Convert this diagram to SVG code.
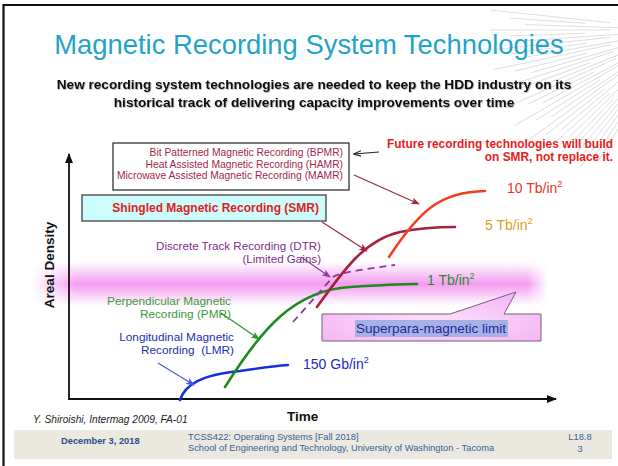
<svg xmlns="http://www.w3.org/2000/svg" width="618" height="466" viewBox="0 0 618 466">
  <style>
    text { font-family: "Liberation Sans", Arial, sans-serif; }
    .ray { stroke: #d2d2d2; stroke-width: 0.7; }
    .boxtxt { font-size: 10.3px; fill: #a3284c; text-anchor: end; }
    .dens { font-size: 14px; }
    .curve { fill: none; stroke-width: 2.6; stroke-linecap: round; }
    .foot { font-size: 9.3px; fill: #3a5f9e; }
  </style>
  <defs>
    <linearGradient id="bandV" x1="0" y1="0" x2="0" y2="1">
      <stop offset="0" stop-color="#f49cf0" stop-opacity="0"/>
      <stop offset="0.5" stop-color="#f49cf0" stop-opacity="1"/>
      <stop offset="1" stop-color="#f49cf0" stop-opacity="0"/>
    </linearGradient>
    <linearGradient id="bandH" gradientUnits="userSpaceOnUse" x1="30" y1="0" x2="548" y2="0">
      <stop offset="0" stop-color="#fff" stop-opacity="0"/>
      <stop offset="0.09" stop-color="#fff"/>
      <stop offset="0.96" stop-color="#fff"/>
      <stop offset="1" stop-color="#fff" stop-opacity="0"/>
    </linearGradient>
    <mask id="bandFade">
      <rect x="30" y="255" width="518" height="60" fill="url(#bandH)"/>
    </mask>
    <radialGradient id="calloutFill" cx="0.5" cy="0.6" r="0.6">
      <stop offset="0" stop-color="#fbe2fb"/>
      <stop offset="1" stop-color="#f4b8f4"/>
    </radialGradient>
    <filter id="softShadow" x="-5%" y="-30%" width="110%" height="160%">
      <feDropShadow dx="0.8" dy="0.8" stdDeviation="0.5" flood-color="#000" flood-opacity="0.3"/>
    </filter>
    <marker id="ahOpen" viewBox="0 0 10 8" refX="9" refY="4" markerWidth="8" markerHeight="7" markerUnits="userSpaceOnUse" orient="auto">
      <path d="M0,0.5 L9.5,4 L0,7.5" fill="none" stroke="#222" stroke-width="1.3"/>
    </marker>
    <marker id="ahRed" viewBox="0 0 10 8" refX="9" refY="4" markerWidth="9" markerHeight="7" markerUnits="userSpaceOnUse" orient="auto">
      <path d="M0,0 L10,4 L0,8 L2.5,4 Z" fill="#9b2a3a"/>
    </marker>
    <marker id="ahPurple" viewBox="0 0 10 8" refX="9" refY="4" markerWidth="9" markerHeight="7" markerUnits="userSpaceOnUse" orient="auto">
      <path d="M0,0 L10,4 L0,8 L2.5,4 Z" fill="#8a3a98"/>
    </marker>
    <marker id="ahGreen" viewBox="0 0 10 8" refX="9" refY="4" markerWidth="9" markerHeight="7" markerUnits="userSpaceOnUse" orient="auto">
      <path d="M0,0 L10,4 L0,8 L2.5,4 Z" fill="#2a9a2a"/>
    </marker>
    <marker id="ahBlue" viewBox="0 0 10 8" refX="9" refY="4" markerWidth="9" markerHeight="7" markerUnits="userSpaceOnUse" orient="auto">
      <path d="M0,0 L10,4 L0,8 L2.5,4 Z" fill="#4a58e0"/>
    </marker>
    <marker id="ahAxis" viewBox="0 0 10 8" refX="9" refY="4" markerWidth="11" markerHeight="8" markerUnits="userSpaceOnUse" orient="auto">
      <path d="M0,0 L10,4 L0,8 Z" fill="#111"/>
    </marker>
    <line id="rayA" class="ray" x1="-70" y1="0" x2="-190" y2="0"/>
    <line id="rayB" class="ray" x1="-95" y1="0" x2="-170" y2="0"/>
    <line id="rayC" class="ray" x1="-60" y1="0" x2="-155" y2="0"/>
  </defs>

  <rect width="618" height="466" fill="#fff"/>

  <!-- corner starburst decoration -->
  <g id="starburst" transform="translate(680,30)">
    <use href="#rayA" transform="rotate(6)"/>
    <use href="#rayB" transform="rotate(4)"/>
    <use href="#rayC" transform="rotate(2)"/>
    <use href="#rayA" transform="rotate(0)"/>
    <use href="#rayB" transform="rotate(-2)"/>
    <use href="#rayC" transform="rotate(-4)"/>
    <use href="#rayA" transform="rotate(-6)"/>
    <use href="#rayB" transform="rotate(-8)"/>
    <use href="#rayC" transform="rotate(-10)"/>
    <use href="#rayA" transform="rotate(-12)"/>
    <use href="#rayB" transform="rotate(-14)"/>
    <use href="#rayC" transform="rotate(-16)"/>
    <use href="#rayA" transform="rotate(-18)"/>
    <use href="#rayB" transform="rotate(-20)"/>
    <use href="#rayC" transform="rotate(-22)"/>
    <use href="#rayA" transform="rotate(-24)"/>
    <use href="#rayB" transform="rotate(-26)"/>
    <use href="#rayC" transform="rotate(-28)"/>
    <use href="#rayA" transform="rotate(-30)"/>
    <use href="#rayB" transform="rotate(-32)"/>
    <use href="#rayC" transform="rotate(-34)"/>
    <use href="#rayA" transform="rotate(-36)"/>
    <use href="#rayB" transform="rotate(-38)"/>
    <use href="#rayC" transform="rotate(-40)"/>
    <use href="#rayB" transform="rotate(-42)"/>
    <use href="#rayC" transform="rotate(-44)"/>
    <use href="#rayB" transform="rotate(-46)"/>
    <use href="#rayC" transform="rotate(-48)"/>
    <use href="#rayB" transform="rotate(-50)"/>
    <use href="#rayC" transform="rotate(-52)"/>
    <use href="#rayB" transform="rotate(-54)"/>
    <use href="#rayC" transform="rotate(-56)"/>
    <use href="#rayC" transform="rotate(-58)"/>
  </g>

  <!-- slide frame -->
  <path d="M3.5,466 V5 H618" fill="none" stroke="#111" stroke-width="2.2"/>

  <g id="title">
    <text x="309" y="54" text-anchor="middle" font-size="27.4" fill="#22a4c9">Magnetic Recording System Technologies</text>
  </g>
  <g id="subtitle" filter="url(#softShadow)" font-weight="bold" font-size="13.6" fill="#111" text-anchor="middle">
    <text x="314" y="89">New recording system technologies are needed to keep the HDD industry on its</text>
    <text x="314" y="107">historical track of delivering capacity improvements over time</text>
  </g>

  <!-- superparamagnetic limit band -->
  <rect id="limit-band" x="30" y="262" width="518" height="44" fill="url(#bandV)" mask="url(#bandFade)"/>

  <!-- axes -->
  <g id="axes" fill="none" stroke="#111" stroke-width="1.8">
    <path d="M69,399 V154" marker-end="url(#ahAxis)"/>
    <path d="M68.1,399 H556" marker-end="url(#ahAxis)"/>
  </g>
  <g id="axis-labels" font-weight="bold" fill="#111">
    <text transform="translate(53.5,265) rotate(-90)" text-anchor="middle" font-size="13.5">Areal Density</text>
    <text x="287" y="421" font-size="13.5">Time</text>
  </g>

  <!-- density curves -->
  <g id="curves">
    <path id="curve-lmr" class="curve" stroke="#1530e0" d="M180,400 C185,385 200,375 240,371 C260,368 275,366 288,365"/>
    <path id="curve-pmr" class="curve" stroke="#1f8a1f" d="M225,387 C262,328 295,290 350,287 C380,285 400,284 417,284"/>
    <path id="curve-dtr" fill="none" stroke="#8b3a9a" stroke-width="1.8" stroke-dasharray="7,5" d="M293,322 L333,277 Q340,272 395,265"/>
    <path id="curve-smr" class="curve" stroke="#a8203c" d="M317,307 C345,268 365,240 400,232 C420,228 440,227 455,227"/>
    <path id="curve-future" class="curve" stroke="#f2401e" d="M389,257 C420,210 440,192 485,191"/>
  </g>

  <g id="density-labels" class="dens">
    <text x="507" y="193" fill="#e8341c">10 Tb/in<tspan font-size="9" dy="-6">2</tspan></text>
    <text x="485" y="230" fill="#d9a21e">5 Tb/in<tspan font-size="9" dy="-6">2</tspan></text>
    <text x="427" y="285" fill="#2a8a2a">1 Tb/in<tspan font-size="9" dy="-6">2</tspan></text>
    <text x="303" y="369" fill="#1a2ac8">150 Gb/in<tspan font-size="9" dy="-6">2</tspan></text>
  </g>

  <g id="box-future-tech">
    <rect x="113" y="143" width="236" height="47" fill="#fff" stroke="#222" stroke-width="1.2"/>
    <text class="boxtxt" x="343" y="156">Bit Patterned Magnetic Recording (BPMR)</text>
    <text class="boxtxt" x="343" y="167.5">Heat Assisted Magnetic Recording (HAMR)</text>
    <text class="boxtxt" x="343" y="179">Microwave Assisted Magnetic Recording (MAMR)</text>
  </g>

  <g id="note-future" font-weight="bold" font-size="11.9" fill="#e8201c" text-anchor="end">
    <text x="613" y="148">Future recording technologies will build</text>
    <text x="613" y="161">on SMR, not replace it.</text>
  </g>

  <g id="box-smr">
    <rect x="82" y="195" width="244" height="26" fill="#ccfcfc" stroke="#333" stroke-width="1.2"/>
    <text x="319" y="212" text-anchor="end" font-weight="bold" font-size="12" fill="#e0201c">Shingled Magnetic Recording (SMR)</text>
  </g>

  <g id="label-dtr" font-size="11.6" fill="#7d2d8c" text-anchor="end">
    <text x="321" y="250">Discrete Track Recording (DTR)</text>
    <text x="321" y="263">(Limited Gains)</text>
  </g>

  <g id="label-pmr" font-size="11.8" fill="#3a9a3a" text-anchor="end">
    <text x="231" y="305">Perpendicular Magnetic</text>
    <text x="231" y="318">Recording (PMR)</text>
  </g>

  <g id="label-lmr" font-size="11.8" fill="#2030b0" text-anchor="end">
    <text x="234" y="341">Longitudinal Magnetic</text>
    <text x="234" y="354" xml:space="preserve">Recording  (LMR)</text>
  </g>

  <g id="callout-limit">
    <path d="M322,314 H450 L516,292 L504,314 H541 V341 H322 Z" fill="url(#calloutFill)" stroke="#7a5a7a" stroke-width="1"/>
    <rect x="355" y="320" width="153" height="17" fill="#a8b0e6"/>
    <text x="356" y="333" font-size="13.5" fill="#1c2a9c">Superpara-magnetic limit</text>
  </g>

  <g id="connectors" fill="none" stroke-width="1.2">
    <line x1="379" y1="152" x2="354" y2="154" stroke="#222" marker-end="url(#ahOpen)"/>
    <line x1="354" y1="175" x2="419" y2="204" stroke="#9b2a3a" marker-end="url(#ahRed)"/>
    <line x1="322" y1="222" x2="367" y2="251" stroke="#9b2a3a" marker-end="url(#ahRed)"/>
    <line x1="301" y1="257" x2="330" y2="277" stroke="#8a3a98" marker-end="url(#ahPurple)"/>
    <line x1="221" y1="313" x2="259" y2="339" stroke="#2a9a2a" marker-end="url(#ahGreen)"/>
    <line x1="158" y1="363" x2="194" y2="385" stroke="#4a58e0" marker-end="url(#ahBlue)"/>
  </g>

  <g id="citation">
    <text x="33" y="423" font-size="10.2" font-style="italic" fill="#222">Y. Shiroishi, Intermag 2009, FA-01</text>
  </g>

  <g id="footer">
    <rect x="14" y="430" width="598" height="29" fill="#ebe8df"/>
    <text x="61" y="444" font-size="9.3" font-weight="bold" fill="#2c4f8c">December 3, 2018</text>
    <text class="foot" x="188" y="440">TCSS422: Operating Systems [Fall 2018]</text>
    <text class="foot" x="188" y="451">School of Engineering and Technology, University of Washington - Tacoma</text>
    <text class="foot" x="580" y="440" text-anchor="middle">L18.8</text>
    <text class="foot" x="580" y="452" text-anchor="middle">3</text>
  </g>
</svg>
